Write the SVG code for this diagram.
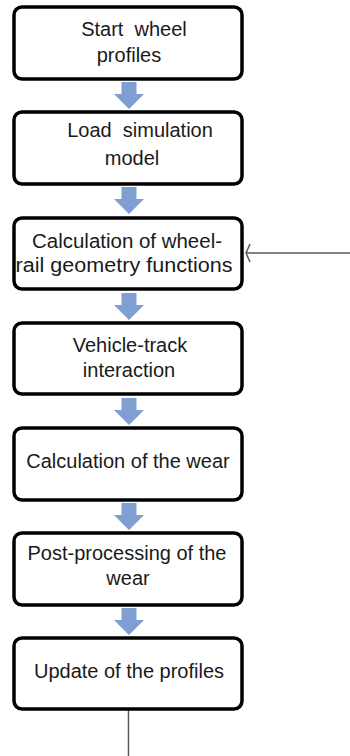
<svg xmlns="http://www.w3.org/2000/svg" width="350" height="756" viewBox="0 0 350 756">
  <style>
    .box { fill: #ffffff; stroke: #000000; stroke-width: 3.5; }
    .lbl { font-family: "Liberation Sans", Arial, sans-serif; font-size: 20px; fill: #1a1a1a; text-anchor: middle; white-space: pre; }
    .flow { fill: #7f9fd3; }
    .wire { stroke: #595959; stroke-width: 1.5; fill: none; }
  </style>
  <defs>
    <!-- block arrow between consecutive steps -->
    <path id="down" class="flow" d="M -7.5 0 H 7.5 V 12 H 15 L 0 27 L -15 12 H -7.5 Z"/>
  </defs>
  <rect width="350" height="756" fill="#ffffff"/>

  <g id="connectors">
    <use href="#down" x="129" y="82"/>
    <use href="#down" x="129" y="187"/>
    <use href="#down" x="129" y="293"/>
    <use href="#down" x="129" y="398"/>
    <use href="#down" x="129" y="503"/>
    <use href="#down" x="129" y="608"/>
    <!-- feedback entering the geometry step from the right -->
    <path class="wire" d="M 350 253 H 246"/>
    <path class="wire" stroke-width="1" d="M 250 244 L 246 253 L 250 262"/>
    <!-- exit from the profile update -->
    <path class="wire" stroke-width="2" d="M 128.5 710 V 756"/>
  </g>

  <g id="start">
    <rect class="box" x="14" y="7" width="228" height="72" rx="8"/>
    <text class="lbl" x="134" y="36" xml:space="preserve">Start  wheel</text>
    <text class="lbl" x="129" y="62">profiles</text>
  </g>

  <g id="load">
    <rect class="box" x="14" y="112" width="228" height="72" rx="8"/>
    <text class="lbl" x="140" y="137" xml:space="preserve">Load  simulation</text>
    <text class="lbl" x="132" y="165">model</text>
  </g>

  <g id="geometry">
    <rect class="box" x="14" y="218" width="228" height="71" rx="8"/>
    <text class="lbl" x="127" y="248" textLength="190" lengthAdjust="spacingAndGlyphs">Calculation of wheel-</text>
    <text class="lbl" x="124" y="272" textLength="217" lengthAdjust="spacingAndGlyphs">rail geometry functions</text>
  </g>

  <g id="interaction">
    <rect class="box" x="14" y="323" width="228" height="71" rx="8"/>
    <text class="lbl" x="130" y="352">Vehicle-track</text>
    <text class="lbl" x="129" y="377">interaction</text>
  </g>

  <g id="wear">
    <rect class="box" x="14" y="428" width="228" height="72" rx="8"/>
    <text class="lbl" x="128" y="468">Calculation of the wear</text>
  </g>

  <g id="postprocessing">
    <rect class="box" x="14" y="533" width="228" height="72" rx="8"/>
    <text class="lbl" x="127" y="560">Post-processing of the</text>
    <text class="lbl" x="128" y="585">wear</text>
  </g>

  <g id="update">
    <rect class="box" x="14" y="638" width="228" height="71" rx="8"/>
    <text class="lbl" x="129" y="678">Update of the profiles</text>
  </g>
</svg>
